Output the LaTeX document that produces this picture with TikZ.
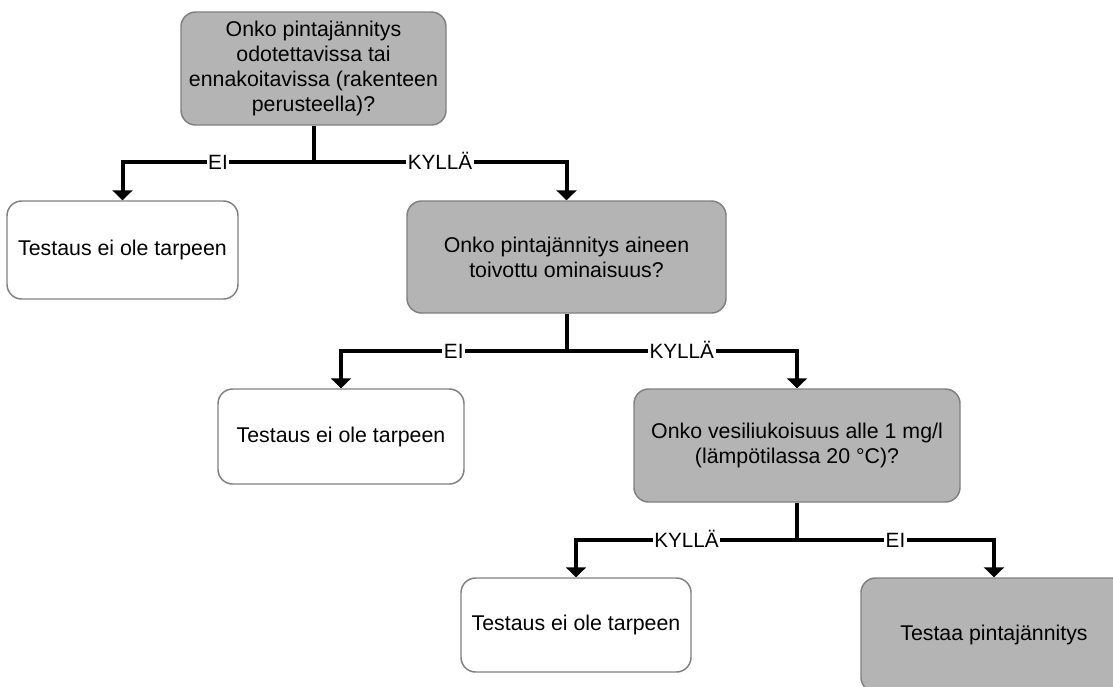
\documentclass[tikz,border=0pt]{standalone}
\usepackage{fontspec}
\setmainfont{Liberation Sans}
\usetikzlibrary{arrows.meta}
\definecolor{boxgray}{RGB}{180,180,180}
\definecolor{edgegray}{RGB}{128,128,128}
\tikzset{
  qbox/.style={draw=edgegray, line width=1.1pt, fill=boxgray, rounded corners=11pt,
    align=center, font=\fontsize{16}{18.75}\selectfont, inner sep=0pt},
  abox/.style={qbox, fill=white},
  conn/.style={line width=3pt, -{Triangle[width=15pt,length=7.5pt]}},
  stem/.style={line width=3pt},
  lbl/.style={fill=white, inner xsep=1.2pt, inner ysep=2pt, text height=11pt, text depth=0pt,
    font=\fontsize{15.5}{18}\selectfont},
}
\begin{document}
\begin{tikzpicture}[x=0.75pt,y=-0.75pt]
\path[use as bounding box] (0,0) rectangle (1113,686);
\clip (0,0) rectangle (1113,686);

% nodes
\node[qbox, minimum width=265*0.75pt, minimum height=113*0.75pt] (q1) at (313.5,68.5)
  {Onko pintajännitys\\odotettavissa tai\\ennakoitavissa (rakenteen\\perusteella)?};
\node[abox, minimum width=231*0.75pt, minimum height=98*0.75pt] (n1) at (122.5,250)
  {Testaus ei ole tarpeen};
\node[qbox, minimum width=319*0.75pt, minimum height=112*0.75pt] (q2) at (566.5,257)
  {Onko pintajännitys aineen\\toivottu ominaisuus?};
\node[abox, minimum width=246*0.75pt, minimum height=95*0.75pt] (n2) at (341,436.5)
  {Testaus ei ole tarpeen};
\node[qbox, minimum width=326*0.75pt, minimum height=113*0.75pt] (q3) at (797,445.5)
  {Onko vesiliukoisuus alle 1 mg/l\\(lämpötilassa 20 °C)?};
\node[abox, minimum width=230*0.75pt, minimum height=94*0.75pt] (n3) at (576,625)
  {Testaus ei ole tarpeen};
\node[qbox, minimum width=266*0.75pt, minimum height=114*0.75pt] (t) at (994,635)
  {Testaa pintajännitys};

% junctions
\coordinate (j1) at (313.5,162);
\coordinate (j2) at (566.5,351);
\coordinate (j3) at (797,540);

% connectors
\draw[stem] (q1.south) -- (j1);
\draw[conn] (j1) -| (n1.north) node[lbl, pos=0.25] {EI};
\draw[conn] (j1) -| (q2.north) node[lbl, pos=0.25] {KYLLÄ};

\draw[stem] (q2.south) -- (j2);
\draw[conn] (j2) -| (n2.north) node[lbl, pos=0.25] {EI};
\draw[conn] (j2) -| (q3.north) node[lbl, pos=0.25] {KYLLÄ};

\draw[stem] (q3.south) -- (j3);
\draw[conn] (j3) -| (n3.north) node[lbl, pos=0.25] {KYLLÄ};
\draw[conn] (j3) -| (t.north) node[lbl, pos=0.25] {EI};
\end{tikzpicture}
\end{document}
